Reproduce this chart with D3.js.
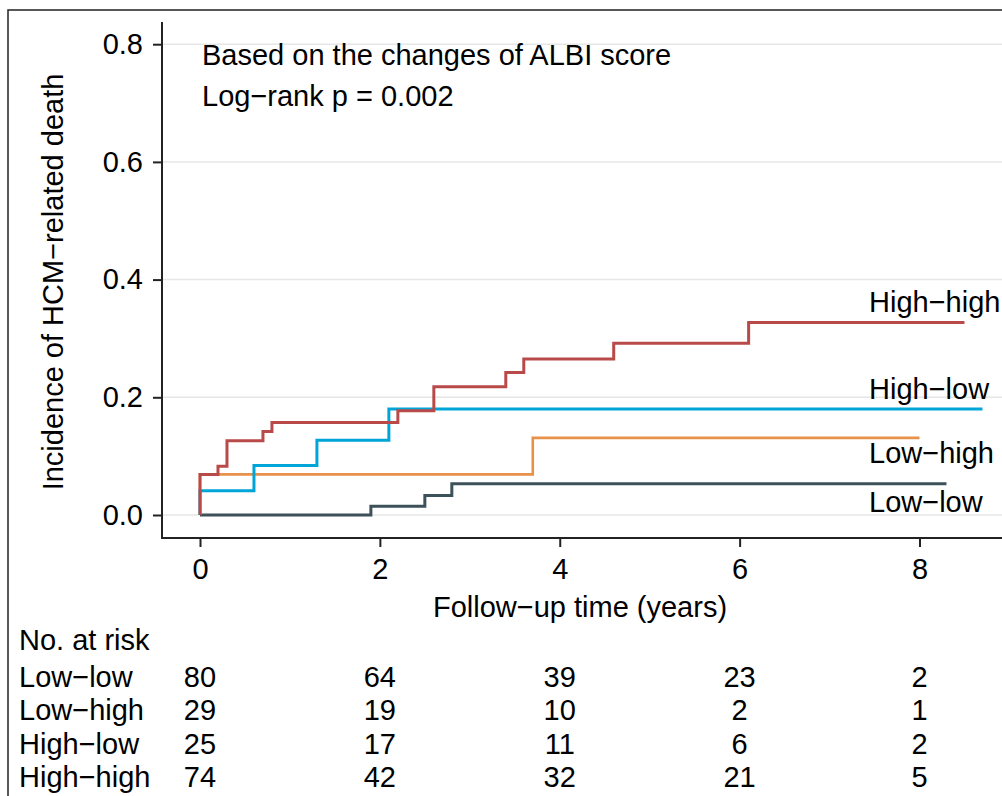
<!DOCTYPE html>
<html>
<head>
<meta charset="utf-8">
<script src="https://cdn.jsdelivr.net/npm/d3@7"></script>
<style>
  body { margin: 0; background: #fff; }
  svg { display: block; }
  text { font-family: "Liberation Sans", Arial, sans-serif; fill: #000; }
</style>
</head>
<body>
<div id="chart"></div>
<script>
// Groups (draw order: bottom to top)
const groups = ["Low−low", "Low−high", "High−low", "High−high"];
const colors = ["#3d5159", "#e8914a", "#00a5d8", "#b94a4a"];

// Step curves: jump times (years) and cumulative incidence after each jump
const lowLowTimes = [0, 1.9, 2.5, 2.8];
const lowLowValues = [0, 0.015, 0.033, 0.053];
const lowHighTimes = [0, 0, 3.7];
const lowHighValues = [0, 0.069, 0.131];
const highLowTimes = [0, 0, 0.6, 1.3, 2.1];
const highLowValues = [0, 0.041, 0.084, 0.127, 0.180];
const highHighTimes = [0, 0, 0.2, 0.3, 0.7, 0.8, 2.2, 2.6, 3.4, 3.6, 4.6, 6.1];
const highHighValues = [0, 0.069, 0.083, 0.126, 0.142, 0.157, 0.177, 0.218, 0.242, 0.265, 0.292, 0.327];
// last follow-up time of each group
const endTimes = [8.3, 8.0, 8.7, 8.5];

// Axis ticks
const xTicks = [0, 2, 4, 6, 8];
const yTicks = [0, 0.2, 0.4, 0.6, 0.8];

// Numbers at risk at each x tick
const riskLowLow = [80, 64, 39, 23, 2];
const riskLowHigh = [29, 19, 10, 2, 1];
const riskHighLow = [25, 17, 11, 6, 2];
const riskHighHigh = [74, 42, 32, 21, 5];

const seriesTimes = [lowLowTimes, lowHighTimes, highLowTimes, highHighTimes];
const seriesValues = [lowLowValues, lowHighValues, highLowValues, highHighValues];
const riskRows = [riskLowLow, riskLowHigh, riskHighLow, riskHighHigh];

const width = 1002, height = 796;
const fs = 29;

const svg = d3.select("#chart").append("svg")
  .attr("width", width)
  .attr("height", height);

// outer frame
svg.append("rect")
  .attr("x", 8).attr("y", 10)
  .attr("width", width + 20).attr("height", height + 20)
  .attr("fill", "none")
  .attr("stroke", "#222")
  .attr("stroke-width", 1.5);

// plot region
const box = { left: 162, right: 1002, top: 22, bottom: 538 };

const x = d3.scaleLinear().domain([0, 8]).range([200, 919.5]);
const y = d3.scaleLinear().domain([0, 0.8]).range([515, 44.2]);

// gridlines
svg.append("g")
  .selectAll("line")
  .data(yTicks)
  .join("line")
  .attr("x1", box.left).attr("x2", box.right)
  .attr("y1", d => y(d)).attr("y2", d => y(d))
  .attr("stroke", "#e6e6e6")
  .attr("stroke-width", 1.5);

// y axis
const yAxis = svg.append("g")
  .attr("transform", `translate(${box.left},0)`)
  .call(d3.axisLeft(y).tickValues(yTicks).tickFormat(d3.format(".1f")).tickSize(9).tickPadding(10));
yAxis.select(".domain").remove();
yAxis.selectAll(".tick line").attr("stroke", "#222").attr("stroke-width", 2);
yAxis.selectAll(".tick text")
  .attr("font-size", fs)
  .attr("font-family", "Liberation Sans, Arial, sans-serif")
  .attr("fill", "#000");

// x axis
const xAxis = svg.append("g")
  .attr("transform", `translate(0,${box.bottom})`)
  .call(d3.axisBottom(x).tickValues(xTicks).tickSize(9).tickPadding(11));
xAxis.select(".domain").remove();
xAxis.selectAll(".tick line").attr("stroke", "#222").attr("stroke-width", 2);
xAxis.selectAll(".tick text")
  .attr("font-size", fs)
  .attr("font-family", "Liberation Sans, Arial, sans-serif")
  .attr("fill", "#000");

// axis lines
svg.append("path")
  .attr("d", `M${box.left},${box.top}V${box.bottom}H${box.right}`)
  .attr("fill", "none")
  .attr("stroke", "#222")
  .attr("stroke-width", 2);

// step curves
const line = d3.line()
  .x(d => x(d[0]))
  .y(d => y(d[1]))
  .curve(d3.curveStepAfter);

groups.forEach((g, i) => {
  const pts = seriesTimes[i].map((t, j) => [t, seriesValues[i][j]]);
  pts.push([endTimes[i], seriesValues[i][seriesValues[i].length - 1]]);
  svg.append("path")
    .datum(pts)
    .attr("d", line)
    .attr("fill", "none")
    .attr("stroke", colors[i])
    .attr("stroke-width", i === 1 ? 2.6 : 3);
});

// curve labels
const labelY = [512, 463, 399, 312];
groups.forEach((g, i) => {
  svg.append("text")
    .attr("x", 869)
    .attr("y", labelY[i])
    .attr("font-size", fs)
    .text(g);
});

// annotation
svg.append("text").attr("x", 202).attr("y", 65).attr("font-size", fs)
  .text("Based on the changes of ALBI score");
svg.append("text").attr("x", 202).attr("y", 106).attr("font-size", fs)
  .text("Log−rank p = 0.002");

// axis titles
svg.append("text")
  .attr("x", 580).attr("y", 617)
  .attr("text-anchor", "middle")
  .attr("font-size", fs)
  .text("Follow−up time (years)");

svg.append("text")
  .attr("transform", "translate(63,282) rotate(-90)")
  .attr("text-anchor", "middle")
  .attr("font-size", fs)
  .text("Incidence of HCM−related death");

// risk table
svg.append("text").attr("x", 19).attr("y", 650).attr("font-size", fs).text("No. at risk");

const rowY = [687, 720, 754, 787];
groups.forEach((g, i) => {
  svg.append("text").attr("x", 19).attr("y", rowY[i]).attr("font-size", fs).text(g);
  svg.append("g")
    .selectAll("text")
    .data(riskRows[i])
    .join("text")
    .attr("x", (d, j) => x(xTicks[j]))
    .attr("y", rowY[i])
    .attr("text-anchor", "middle")
    .attr("font-size", fs)
    .text(d => d);
});
</script>
</body>
</html>
